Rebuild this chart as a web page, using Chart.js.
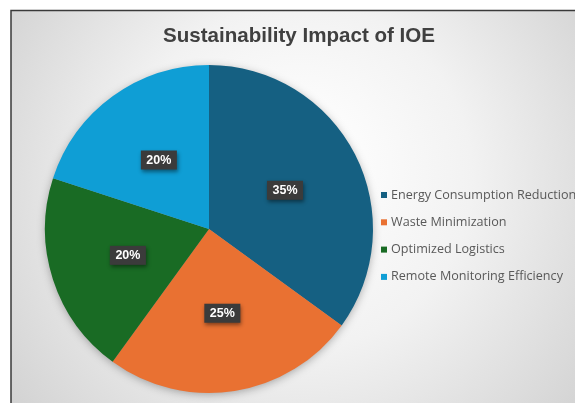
<!DOCTYPE html>
<html>
<head>
<meta charset="utf-8">
<title>Sustainability Impact of IOE</title>
<script src="https://cdn.jsdelivr.net/npm/chart.js@4"></script>
<style>
    html, body { margin: 0; padding: 0; background: #ffffff; }
    #wrap { width: 575px; height: 403px; position: relative; }
</style>
</head>
<body>
<div id="wrap"><canvas id="chart" width="575" height="403"></canvas></div>
<script>
const chartTitle = 'Sustainability Impact of IOE';
const categories = ['Energy Consumption Reduction', 'Waste Minimization', 'Optimized Logistics', 'Remote Monitoring Efficiency'];
const shares = [35, 25, 20, 20];
const sliceColors = ['#156082', '#E97132', '#196B24', '#0F9ED5'];

// background, frame and title like the Excel chart area
const chartBackground = {
    id: 'chartBackground',
    beforeDraw(chart) {
        const ctx = chart.ctx;
        const w = chart.width, h = chart.height;
        ctx.save();
        ctx.fillStyle = '#ffffff';
        ctx.fillRect(0, 0, w, h);
        const grad = ctx.createRadialGradient(300, 160, 20, 300, 200, 400);
        grad.addColorStop(0, '#ffffff');
        grad.addColorStop(0.4, '#f2f2f2');
        grad.addColorStop(1, '#cbcbcb');
        ctx.fillStyle = grad;
        ctx.fillRect(11, 10, w - 11, h - 10);
        ctx.strokeStyle = '#3a3a3a';
        ctx.lineWidth = 1.5;
        ctx.beginPath();
        ctx.moveTo(11, h);
        ctx.lineTo(11, 10.5);
        ctx.lineTo(w, 10.5);
        ctx.stroke();

        // title
        ctx.font = 'bold 21px "Liberation Sans Narrow", "Liberation Sans", Arial, sans-serif';
        ctx.fillStyle = '#404040';
        ctx.textBaseline = 'alphabetic';
        const tw = ctx.measureText(chartTitle).width;
        const target = 272;
        ctx.translate(299, 42);
        ctx.scale(target / tw, 1);
        ctx.textAlign = 'center';
        ctx.fillText(chartTitle, 0, 0);
        ctx.restore();
    },
    beforeDatasetsDraw(chart) {
        // soft shadow under the pie
        const arc = chart.getDatasetMeta(0).data[0];
        if (!arc) return;
        const ctx = chart.ctx;
        ctx.save();
        ctx.shadowColor = 'rgba(0,0,0,0.35)';
        ctx.shadowBlur = 10;
        ctx.shadowOffsetY = 2;
        ctx.fillStyle = '#9a9a9a';
        ctx.beginPath();
        ctx.arc(arc.x, arc.y, arc.outerRadius - 1, 0, Math.PI * 2);
        ctx.fill();
        ctx.restore();
    },
    afterDatasetsDraw(chart) {
        const ctx = chart.ctx;
        const meta = chart.getDatasetMeta(0);
        const values = chart.data.datasets[0].data;
        const total = values.reduce((a, b) => a + b, 0);
        ctx.save();
        ctx.font = 'bold 12.5px "Liberation Sans", Arial, sans-serif';
        ctx.textAlign = 'center';
        ctx.textBaseline = 'middle';
        meta.data.forEach((arc, i) => {
            const mid = (arc.startAngle + arc.endAngle) / 2;
            const r = arc.outerRadius * 0.52;
            const x = arc.x + Math.cos(mid) * r;
            const y = arc.y + Math.sin(mid) * r;
            const text = Math.round(values[i] / total * 100) + '%';
            const bw = ctx.measureText(text).width + 11;
            const bh = 19;
            ctx.save();
            ctx.shadowColor = 'rgba(0,0,0,0.45)';
            ctx.shadowBlur = 4;
            ctx.shadowOffsetX = 1;
            ctx.shadowOffsetY = 2;
            ctx.fillStyle = '#3b3b3b';
            ctx.fillRect(x - bw / 2, y - bh / 2, bw, bh);
            ctx.restore();
            ctx.fillStyle = '#ffffff';
            ctx.fillText(text, x, y + 0.5);
        });
        ctx.restore();
    },
    afterDraw(chart) {
        // legend on the right, clipped by the canvas edge like the original
        const ctx = chart.ctx;
        const labels = chart.data.labels;
        const colors = chart.data.datasets[0].backgroundColor;
        ctx.save();
        ctx.font = '12.6px "Open Sans", "Liberation Sans", Arial, sans-serif';
        ctx.textBaseline = 'middle';
        ctx.textAlign = 'left';
        labels.forEach((label, i) => {
            const y = 195 + i * 27.3;
            ctx.fillStyle = colors[i];
            ctx.fillRect(381, y - 3, 6, 6);
            ctx.fillStyle = '#595959';
            ctx.fillText(label, 391, y);
        });
        ctx.restore();
    }
};

const chart = new Chart(document.getElementById('chart').getContext('2d'), {
    type: 'pie',
    data: {
        labels: categories,
        datasets: [{
            data: shares,
            backgroundColor: sliceColors,
            borderWidth: 0
        }]
    },
    options: {
        responsive: false,
        animation: false,
        layout: {
            padding: { left: 45, right: 202, top: 65, bottom: 10 }
        },
        plugins: {
            legend: { display: false },
            title: { display: false },
            tooltip: { enabled: false }
        }
    },
    plugins: [chartBackground]
});
</script>
</body>
</html>
